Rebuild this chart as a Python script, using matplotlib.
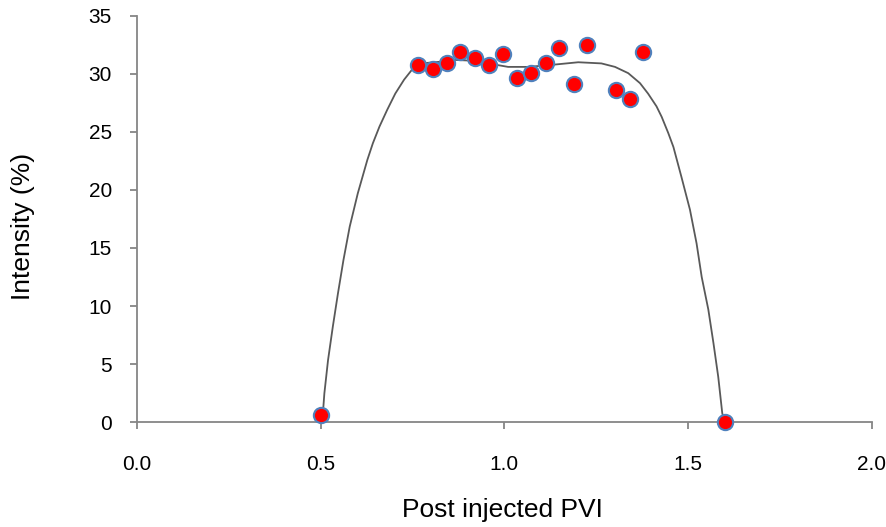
import numpy as np
import matplotlib.pyplot as plt

plt.rcParams['font.family'] = ['Liberation Sans', 'DejaVu Sans']

# measured points
pvi = [0.50, 0.765, 0.806, 0.844, 0.880, 0.919, 0.957, 0.997, 1.035, 1.072,
       1.113, 1.149, 1.190, 1.226, 1.303, 1.342, 1.378, 1.60]
intensity = [0.6, 30.8, 30.4, 30.9, 31.9, 31.4, 30.75, 31.7, 29.6, 30.1,
             30.9, 32.2, 29.1, 32.5, 28.6, 27.8, 31.9, 0.0]

# fitted curve
fit_x = [0.500, 0.506, 0.510, 0.520, 0.533, 0.547, 0.562, 0.579, 0.601, 0.627,
         0.642, 0.660, 0.681, 0.703, 0.727, 0.747, 0.765, 0.774, 0.828, 0.865,
         0.901, 0.956, 1.010, 1.065, 1.137, 1.201, 1.264, 1.301, 1.337, 1.369,
         1.391, 1.414, 1.428, 1.446, 1.460, 1.482, 1.505, 1.523, 1.537, 1.555,
         1.569, 1.582, 1.593, 1.600]
fit_y = [0.0, 0.75, 2.47, 5.34, 8.22, 11.09, 13.97, 16.84, 19.71, 22.59,
         24.02, 25.46, 26.9, 28.3, 29.5, 30.3, 30.8, 30.9, 31.05, 31.2,
         31.15, 30.9, 30.6, 30.6, 30.8, 31.0, 30.9, 30.6, 30.06, 29.2,
         28.3, 27.2, 26.3, 24.9, 23.7, 21.1, 18.3, 15.4, 12.5, 9.7,
         6.8, 3.9, 0.75, 0.0]

fig = plt.figure(figsize=(8.86, 5.27), dpi=100)
ax = fig.add_axes([0.1546, 0.199, 0.8294, 0.771])

ax.plot(fit_x, fit_y, color='#595959', lw=1.3, zorder=2)
ax.plot(pvi, intensity, 'o', ms=11, mfc='#FF0000', mec='#4F81BD', mew=1.5,
        ls='none', zorder=3, clip_on=False)

ax.set_xlim(0, 2.0)
ax.set_ylim(0, 35)
ax.set_xticks(np.arange(0, 2.01, 0.5))
ax.set_xticklabels(['%.1f' % v for v in np.arange(0, 2.01, 0.5)])
ax.set_yticks(range(0, 36, 5))

for s in ['top', 'right']:
    ax.spines[s].set_visible(False)
for s in ['left', 'bottom']:
    ax.spines[s].set_color('#868686')
    ax.spines[s].set_linewidth(1.3)
ax.tick_params(direction='out', length=5, width=1.3, color='#868686',
               labelsize=15)
ax.tick_params(axis='x', pad=19)
ax.tick_params(axis='y', pad=13)

ax.set_xlabel('Post injected PVI', fontsize=19)
ax.set_ylabel('Intensity (%)', fontsize=19)
ax.xaxis.set_label_coords(0.498, -0.186)
ax.yaxis.set_label_coords(-0.139, 0.4815)

fig.savefig('out.png', dpi=100)
